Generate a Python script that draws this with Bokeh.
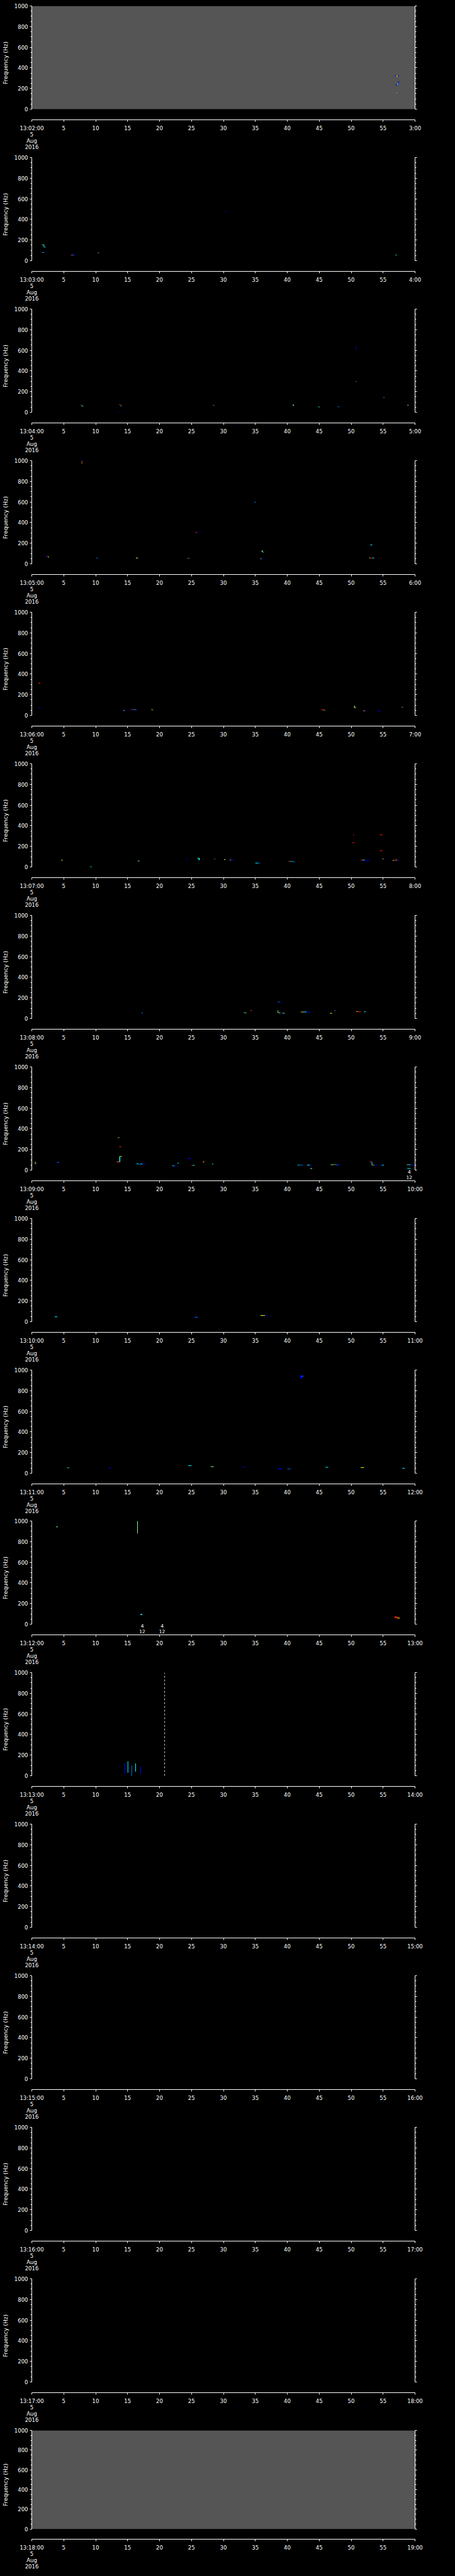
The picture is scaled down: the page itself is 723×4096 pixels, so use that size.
import math
from bokeh.plotting import figure
from bokeh.models import (Range1d, LinearAxis, FixedTicker, Label, ColumnDataSource,
                          LinearColorMapper)
from bokeh.layouts import column
from bokeh.embed import file_html
from bokeh.resources import INLINE

# ---------------- data ----------------
START_MINUTE = list(range(2, 19))          # panels start 13:02:00 ... 13:18:00
DATE_LINES = ["5", "Aug", "2016"]
X_TICKS = list(range(0, 61, 5))            # seconds
Y_TICKS = [0, 200, 400, 600, 800, 1000]    # Hz
Y_MINOR = [f for f in range(0, 1001, 50) if f % 200]
GRAY_PANELS = [1, 17]                      # panels with no data (filled gray)

# colour levels (0..1) of the spectrogram colour table
b, bl, c, g, y, o, r = 0.15, 0.25, 0.45, 0.55, 0.65, 0.75, 0.85

# marks per panel: (t_start s, t_end s, f_low Hz, f_high Hz, level)
P01 = [(56.85, 56.95, 315, 330, b), (56.95, 57.1, 316, 322, r), (57.1, 57.3, 316, 322, y),
       (57.35, 57.45, 315, 330, b), (57.4, 57.48, 243, 272, b), (57.15, 57.4, 240, 246, c),
       (57.0, 57.15, 229, 243, b), (57.0, 57.1, 155, 161, r), (57.1, 57.2, 155, 161, c),
       (57.2, 57.3, 155, 161, bl)]
P02 = [(1.57, 1.76, 152, 158, o), (1.76, 1.9, 152, 158, c), (1.85, 1.95, 131, 158, c),
       (1.95, 2.15, 128, 134, c), (1.65, 1.8, 77, 83, c), (1.8, 2.0, 77, 83, bl),
       (6.1, 6.25, 52, 58, r), (6.25, 6.6, 52, 58, bl), (6.6, 6.9, 50, 55, b),
       (10.35, 10.5, 73, 79, o), (10.5, 10.6, 73, 79, b), (30.35, 30.55, 476, 482, b),
       (56.95, 57.15, 52, 58, c)]
P03 = [(7.7, 7.85, 64, 70, o), (7.85, 8.05, 57, 63, c), (13.7, 13.9, 70, 76, r),
       (13.9, 14.05, 61, 67, g), (14.05, 14.2, 50, 56, b), (13.35, 13.55, 0, 5, b),
       (28.4, 28.55, 64, 70, o), (28.55, 28.65, 64, 70, b), (50.75, 50.85, 608, 629, b),
       (50.75, 50.85, 296, 302, c), (55.0, 55.25, 141, 147, bl), (40.7, 40.85, 74, 80, b),
       (40.85, 41.05, 64, 74, g), (44.85, 45.05, 49, 55, c), (47.9, 48.15, 51, 57, bl),
       (58.8, 59.0, 66, 72, g)]
P04 = [(7.8, 7.87, 970, 998, o), (7.9, 8.1, 992, 998, b), (2.2, 2.4, 73, 79, b),
       (2.4, 2.6, 70, 76, r), (2.55, 2.7, 63, 69, y), (10.1, 10.3, 54, 60, bl),
       (16.3, 16.6, 54, 60, y), (16.6, 16.9, 50, 56, b), (24.3, 24.5, 50, 56, r),
       (24.5, 24.7, 50, 56, c), (25.6, 25.85, 300, 306, r), (25.85, 26.1, 300, 306, b),
       (34.85, 35.1, 595, 601, bl), (36.0, 36.15, 115, 130, g), (36.15, 36.3, 110, 116, c),
       (35.8, 35.95, 46, 52, g), (35.95, 36.2, 44, 50, b), (53.0, 53.3, 180, 186, c),
       (52.8, 52.95, 56, 62, g), (52.95, 53.3, 54, 60, r), (53.3, 53.6, 54, 60, c)]
P05 = [(1.0, 1.35, 310, 316, r), (1.0, 1.3, 73, 79, b), (14.3, 14.5, 45, 51, g),
       (14.5, 14.7, 43, 49, b), (15.3, 15.6, 50, 56, b), (15.6, 15.9, 55, 61, r),
       (15.9, 16.4, 52, 58, bl), (18.7, 18.85, 55, 61, o), (18.85, 19.0, 50, 56, y),
       (45.3, 45.7, 52, 58, r), (45.7, 45.9, 48, 54, g), (50.45, 50.6, 74, 92, g),
       (50.6, 50.8, 72, 78, o), (51.9, 52.15, 42, 48, o), (52.15, 52.4, 42, 48, b),
       (54.2, 54.6, 38, 44, b), (57.9, 58.0, 76, 82, o), (58.0, 58.15, 76, 82, bl)]
P06 = [(4.6, 4.75, 64, 70, y), (4.75, 4.85, 58, 64, c), (9.1, 9.4, 0, 5, c),
       (16.6, 16.85, 56, 62, g), (16.85, 17.0, 56, 62, b), (24.2, 24.4, 75, 81, b),
       (25.9, 26.15, 82, 88, g), (26.1, 26.3, 68, 86, c), (28.5, 28.6, 75, 81, b),
       (28.6, 28.7, 75, 81, o), (30.1, 30.3, 69, 75, y), (30.3, 30.45, 69, 75, b),
       (31.0, 31.2, 65, 71, o), (31.2, 31.6, 65, 71, b), (35.0, 35.4, 35, 41, c),
       (35.4, 35.7, 34, 40, bl), (40.2, 40.4, 52, 58, r), (40.4, 40.9, 50, 56, c),
       (40.9, 41.2, 48, 54, bl), (50.3, 50.45, 309, 315, r), (50.2, 50.5, 232, 238, r),
       (54.5, 54.9, 309, 315, r), (54.5, 54.9, 155, 161, r), (51.5, 51.8, 64, 70, r),
       (51.8, 52.1, 64, 70, c), (52.1, 52.9, 60, 66, b), (54.9, 55.05, 75, 81, y),
       (55.05, 55.2, 75, 81, b), (56.5, 56.7, 60, 66, g), (56.7, 57.0, 65, 71, r),
       (57.0, 57.2, 65, 71, o), (57.2, 57.5, 60, 66, b)]
P07 = [(17.2, 17.35, 50, 56, c), (17.35, 17.5, 47, 53, b), (33.2, 33.4, 56, 62, c),
       (33.4, 33.6, 50, 56, y), (34.2, 34.3, 75, 81, r), (34.3, 34.4, 75, 81, o),
       (38.5, 38.8, 158, 164, bl), (38.8, 39.0, 150, 158, b), (38.5, 38.6, 53, 79, g),
       (38.7, 38.9, 52, 58, y), (38.9, 39.2, 48, 54, b), (39.2, 39.4, 50, 56, c),
       (39.4, 39.6, 48, 54, g), (42.1, 42.4, 62, 68, o), (42.4, 42.6, 60, 66, g),
       (42.6, 43.0, 62, 68, c), (43.0, 43.6, 59, 65, b), (46.7, 47.0, 48, 54, y),
       (47.3, 47.4, 76, 82, b), (47.4, 47.5, 76, 82, o), (50.8, 51.0, 66, 72, y),
       (51.0, 51.5, 63, 69, r), (52.0, 52.3, 63, 69, c)]
P08 = [(0.5, 0.6, 60, 80, y), (0.6, 0.8, 60, 66, bl), (3.8, 4.0, 69, 75, b),
       (4.0, 4.3, 72, 78, bl), (13.4, 13.55, 309, 315, r), (13.55, 13.7, 313, 319, g),
       (13.7, 14.0, 223, 229, r), (13.3, 13.7, 75, 85, r), (13.7, 13.85, 78, 135, c),
       (13.85, 14.1, 130, 136, y), (16.4, 16.7, 58, 64, c), (16.7, 17.0, 54, 60, bl),
       (17.0, 17.3, 57, 63, c), (17.3, 17.7, 54, 60, b), (22.0, 22.3, 38, 44, c),
       (22.3, 22.7, 35, 41, b), (22.8, 23.0, 65, 71, c), (24.3, 24.9, 110, 116, b),
       (25.0, 25.2, 43, 49, r), (25.2, 25.5, 43, 49, c), (26.8, 26.95, 76, 82, y),
       (26.95, 27.05, 76, 82, r), (28.2, 28.4, 56, 62, c), (41.6, 42.0, 47, 53, c),
       (42.0, 42.5, 47, 53, bl), (43.1, 43.5, 46, 52, c), (43.5, 43.9, 42, 48, b),
       (43.6, 43.9, 13, 19, g), (46.8, 47.0, 49, 55, y), (47.0, 47.3, 49, 55, c),
       (47.3, 47.6, 50, 56, o), (47.6, 48.0, 48, 54, bl), (48.0, 48.3, 50, 56, b),
       (52.9, 53.2, 76, 82, r), (53.2, 53.3, 48, 80, c), (53.3, 53.6, 47, 53, y),
       (53.6, 54.2, 43, 49, b), (54.6, 54.8, 44, 50, b), (54.8, 55.1, 44, 50, c),
       (58.7, 58.9, 50, 56, y), (58.9, 59.3, 49, 55, c), (59.3, 59.8, 48, 54, b),
       (58.8, 59.3, 13, 19, c)]
P09 = [(3.6, 4.0, 45, 51, c), (25.5, 26.0, 40, 46, bl), (35.8, 36.5, 57, 63, y),
       (36.5, 36.9, 55, 61, b)]
P10 = [(42.0, 42.3, 920, 950, b), (42.3, 42.5, 935, 945, bl), (5.5, 5.9, 50, 56, c),
       (12.0, 12.4, 45, 51, b), (24.5, 25.0, 70, 76, c), (28.0, 28.5, 62, 68, g),
       (33.0, 33.4, 55, 61, b), (38.5, 39.2, 40, 46, b), (40.0, 40.5, 38, 44, bl),
       (46.0, 46.4, 55, 61, c), (51.5, 52.0, 52, 58, y), (58.0, 58.4, 45, 51, c)]
P11 = [(16.5, 16.6, 880, 1000, g), (3.8, 4.1, 940, 946, g), (17.0, 17.3, 90, 100, c),
       (56.8, 57.2, 60, 75, r), (57.2, 57.6, 55, 65, o)]
P12 = [(14.5, 14.6, 20, 120, b), (15.0, 15.1, 30, 140, c), (15.6, 15.7, 0, 100, bl),
       (16.2, 16.3, 40, 120, c), (17.0, 17.1, 20, 90, b)]
P13 = []
P14 = []
P15 = []
P16 = []
P17 = []
PANEL_MARKS = [P01, P02, P03, P04, P05, P06, P07, P08, P09, P10, P11, P12, P13, P14,
               P15, P16, P17]

# event annotations: (panel, time s, frequency Hz of text, text, font px)
EVENTS = [(1, -0.1, -391, "ADDET_ON", 6.8), (11, 20.8, -272, "ADDET_OFF", 6.8),
          (8, 59.1, -45, "4\n12", 7.5), (11, 17.3, -45, "4\n12", 7.5),
          (11, 20.4, -45, "4\n12", 7.5)]
# dashed event markers: (panel, time s)
DASHES = [(12, 20.8)]

# ---------------- styling / layout ----------------
S = 0.706                 # scale to window
OFF = 8 / S               # reference pixels hidden by the page margin
PITCH = 341.29            # reference panel pitch
W = 715
PALETTE = ["#0000c0", "#0000ff", "#0070ff", "#00d0ff", "#00ffff", "#80ff80",
           "#ffff00", "#ffa000", "#ff2000", "#c00000"]
mapper = LinearColorMapper(palette=PALETTE, low=0, high=1)
FONT = "DejaVu Sans"
TICK_FS = "8.5px"

left_b = round((80.7 - OFF) * S)
right_b = W - round((944.7 - OFF) * S)
frame_h = round(256.7 * S)
y_low = -1000 * 24.0 / 232.7


def edge(i):
    if i == 0:
        return 0
    if i == 17:
        return round((5802 - OFF) * S)
    return round((24 + i * PITCH - 7 - OFF) * S)


figs = []
for i in range(17):
    top_px = edge(i)
    H = edge(i + 1) - top_px
    ftop = round((24 + i * PITCH - OFF) * S) - top_px
    bot = H - ftop - frame_h
    p = figure(width=W, height=H, output_backend="svg", toolbar_location=None,
               x_range=Range1d(0, 60), y_range=Range1d(y_low, 1000),
               x_axis_location=None, y_axis_location=None,
               min_border_left=left_b, min_border_right=right_b,
               min_border_top=ftop, min_border_bottom=bot,
               background_fill_color="black", border_fill_color="black",
               outline_line_color=None)
    p.grid.visible = False

    # axes
    mm = START_MINUTE[i]
    xax = LinearAxis(ticker=FixedTicker(ticks=X_TICKS))
    xax.major_label_overrides = {0: "13:%02d:00\n" % mm + "\n".join(DATE_LINES),
                                 60: "%d:00" % (mm + 1)}
    xax.axis_line_color = "white"
    xax.major_tick_line_color = "white"
    xax.minor_tick_line_color = None
    xax.major_tick_out = 3
    xax.major_tick_in = 0
    xax.major_label_standoff = 5
    xax.major_label_text_color = "white"
    xax.major_label_text_font = FONT
    xax.major_label_text_font_size = TICK_FS
    xax.major_label_text_line_height = 1.0
    p.add_layout(xax, "below")

    yl = LinearAxis(ticker=FixedTicker(ticks=Y_TICKS, minor_ticks=Y_MINOR),
                    axis_label="Frequency (Hz)", bounds=(0, 1000))
    yr = LinearAxis(ticker=FixedTicker(ticks=Y_TICKS, minor_ticks=Y_MINOR),
                    bounds=(0, 1000))
    yr.major_label_overrides = {t: "" for t in Y_TICKS}
    for ax in (yl, yr):
        ax.axis_line_color = "white"
        ax.major_tick_line_color = "white"
        ax.minor_tick_line_color = "white"
        ax.major_tick_out = 3
        ax.major_tick_in = 0
        ax.minor_tick_out = 2
        ax.minor_tick_in = 0
        ax.major_label_text_color = "white"
        ax.major_label_text_font = FONT
        ax.major_label_text_font_size = TICK_FS
        ax.major_label_standoff = 3
    yl.axis_label_text_color = "white"
    yl.axis_label_text_font = FONT
    yl.axis_label_text_font_size = "9px"
    yl.axis_label_text_font_style = "normal"
    yl.axis_label_standoff = 6
    p.add_layout(yl, "left")
    p.add_layout(yr, "right")

    if (i + 1) in GRAY_PANELS:
        p.quad(left=[0], right=[60], bottom=[0], top=[1000], fill_color="#555555",
               line_color=None)

    marks = PANEL_MARKS[i]
    if marks:
        src = ColumnDataSource(dict(t0=[m[0] for m in marks], t1=[m[1] for m in marks],
                                    f0=[m[2] for m in marks], f1=[m[3] for m in marks],
                                    lv=[m[4] for m in marks]))
        p.quad(left="t0", right="t1", bottom="f0", top="f1", source=src,
               fill_color={"field": "lv", "transform": mapper}, line_color=None)

    for (pn, t) in DASHES:
        if pn == i + 1:
            p.segment(x0=[t], y0=[0], x1=[t], y1=[1000], line_color="white",
                      line_width=0.8, line_dash="3 3")

    p.add_layout(Label(x=-4.79, y=901, text="(%d)" % (i + 1), text_align="left",
                       text_baseline="middle", text_color="#b4b4b4", text_font=FONT,
                       text_font_size="9.5px"))
    for (pn, t, f, txt, fs) in EVENTS:
        if pn == i + 1:
            p.add_layout(Label(x=t, y=f, text=txt, text_align="center",
                               text_baseline="middle", text_color="white",
                               text_font=FONT, text_font_size="%.1fpx" % fs,
                               text_line_height=1.0))
    figs.append(p)

layout = column(*figs, spacing=0)
html = file_html(layout, INLINE)
html = html.replace("</head>", "<style>html,body{background:#000000;}</style></head>", 1)
open("out.html", "w").write(html)
